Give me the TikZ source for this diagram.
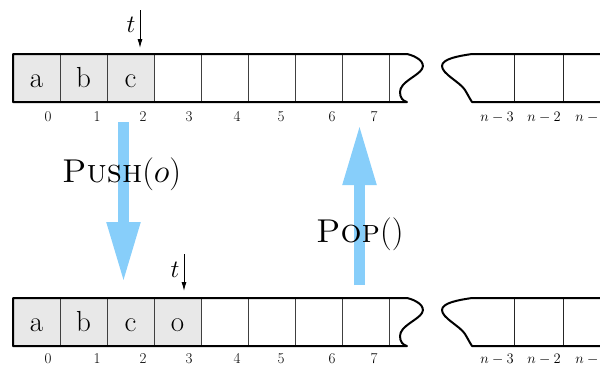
\RequirePackage{fix-cm}
\documentclass[tikz,border=0pt]{standalone}
\usepackage{fontspec}
\usetikzlibrary{arrows.meta}
\definecolor{opblue}{RGB}{135,206,250}
\definecolor{cellgray}{RGB}{232,232,232}
\tikzset{
  cell/.style={draw=black!75, line width=0.8pt, minimum width=47pt, minimum height=48pt,
    inner sep=0pt, text height=19pt, text depth=0pt, font=\fontsize{29}{33}\selectfont},
  full/.style={cell, fill=cellgray},
  idx/.style={anchor=base, inner sep=0pt, font=\fontsize{15}{17}\selectfont},
  nidx/.style={anchor=base, inner sep=0pt, font=\fontsize{14.5}{17}\selectfont},
  outline/.style={line width=2pt, line join=round},
  divider/.style={line width=0.8pt, draw=black!85},
  ptr/.style={line width=1pt, -{Latex[length=9pt,width=5pt]}},
  ptrlabel/.style={inner sep=0pt, font=\fontsize{25}{29}\selectfont},
  op/.style={line width=11pt, draw=opblue, -{Triangle[length=61pt,width=31pt]}},
  oplabel/.style={anchor=base west, inner sep=0pt, font=\fontsize{33}{37}\selectfont},
}
\begin{document}
\begin{tikzpicture}[x=1pt,y=-1pt]
  \useasboundingbox (0,0) rectangle (600,365);
  \clip (0,0) rectangle (600,365);

  % ---- top array ----
  \foreach \i/\txt/\st in {0/a/full,1/b/full,2/c/full,3//cell,4//cell,5//cell,6//cell,7//cell}
    \node[\st] (top\i) at ({36.5+47*\i},78) {\txt};
  \draw[divider] (514,54) -- (514,102);
  \draw[divider] (563,54) -- (563,102);
  \draw[outline] (407,54) -- (13,54) -- (13,102) -- (407,102)
    .. controls (403,101) and (400,98) .. (400,92)
    .. controls (400,82) and (418,76) .. (422,69)
    .. controls (426,62) and (416,56) .. (407,54);
  \draw[outline] (612,54) -- (472,54)
    .. controls (458,56) and (442,59) .. (442,66)
    .. controls (442,74) and (460,82) .. (465,90)
    .. controls (468,95) and (470,99) .. (472,102) -- (612,102);
  \foreach \x/\lab in {48/0,97/1,143/2,189/3,237/4,281/5,332/6,374/7}
    \node[idx] (ti\lab) at (\x,121) {\lab};
  \node[nidx] (tn3) at (497,121) {$n-3$};
  \node[nidx] (tn2) at (544,121) {$n-2$};
  \node[nidx] (tn1) at (592,121) {$n-1$};

  % ---- bottom array ----
  \foreach \i/\txt/\st in {0/a/full,1/b/full,2/c/full,3/o/full,4//cell,5//cell,6//cell,7//cell}
    \node[\st] (bot\i) at ({36.5+47*\i},322) {\txt};
  \draw[divider] (514,298) -- (514,346);
  \draw[divider] (563,298) -- (563,346);
  \draw[outline] (407,298) -- (13,298) -- (13,346) -- (407,346)
    .. controls (403,345) and (400,342) .. (400,336)
    .. controls (400,326) and (418,320) .. (422,313)
    .. controls (426,306) and (416,300) .. (407,298);
  \draw[outline] (612,298) -- (472,298)
    .. controls (458,300) and (442,303) .. (442,310)
    .. controls (442,318) and (460,326) .. (465,334)
    .. controls (468,339) and (470,343) .. (472,346) -- (612,346);
  \foreach \x/\lab in {48/0,97/1,143/2,189/3,237/4,281/5,332/6,374/7}
    \node[idx] (bi\lab) at (\x,363) {\lab};
  \node[nidx] (bn3) at (497,363) {$n-3$};
  \node[nidx] (bn2) at (544,363) {$n-2$};
  \node[nidx] (bn1) at (592,363) {$n-1$};

  % ---- top pointers ----
  \coordinate (ttail) at (140,10);
  \coordinate (thead) at (140,48);
  \draw[ptr] (ttail) -- (thead);
  \node[ptrlabel] (tlab) at (131,25) {$t$};
  \coordinate (btail) at (184,254);
  \coordinate (bhead) at (184,291);
  \draw[ptr] (btail) -- (bhead);
  \node[ptrlabel] (blab) at (175,270) {$t$};

  % ---- operations ----
  \coordinate (pushfrom) at (123.5,122);
  \coordinate (pushto) at (123.5,283);
  \draw[op] (pushfrom) -- (pushto);
  \node[oplabel] (push) at (62,182) {\textsc{Push}($o$)};
  \coordinate (popfrom) at (359.5,285);
  \coordinate (popto) at (359.5,124);
  \draw[op] (popfrom) -- (popto);
  \node[oplabel] (pop) at (316,242) {\textsc{Pop}()};
\end{tikzpicture}
\end{document}
